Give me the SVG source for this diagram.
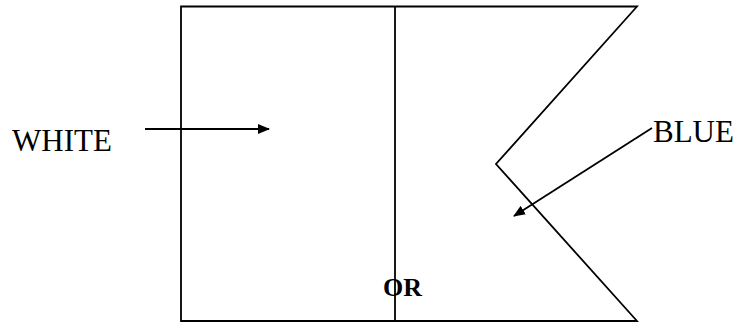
<svg xmlns="http://www.w3.org/2000/svg" width="738" height="323" viewBox="0 0 738 323">
<style>
.ln{fill:none;stroke:#000;stroke-width:1.8}
.t{font-family:"Liberation Serif","Times New Roman",serif;fill:#000}
</style>
<defs>
<marker id="ah" markerWidth="12" markerHeight="10" refX="11" refY="5" orient="auto" markerUnits="userSpaceOnUse">
<path d="M0,0 L12,5 L0,10 Z" fill="#000"/>
</marker>
</defs>
<rect width="738" height="323" fill="#fff"/>
<g id="flag">
<path class="ln" d="M181,6.5 L637,6.5 L496,164 L637,321 L181,321 Z"/>
<line class="ln" x1="395" y1="6.5" x2="395" y2="321"/>
</g>
<g id="white-label"><text class="t" x="12" y="151" font-size="31">WHITE</text></g>
<g id="blue-label"><text class="t" x="653" y="142" font-size="31">BLUE</text></g>
<g id="or-label"><text class="t" x="383" y="296" font-size="26" font-weight="bold">OR</text></g>
<g id="connectors">
<line class="ln" x1="145" y1="129" x2="269" y2="129" marker-end="url(#ah)"/>
<line class="ln" x1="652" y1="128" x2="514" y2="216" marker-end="url(#ah)"/>
</g>
</svg>
